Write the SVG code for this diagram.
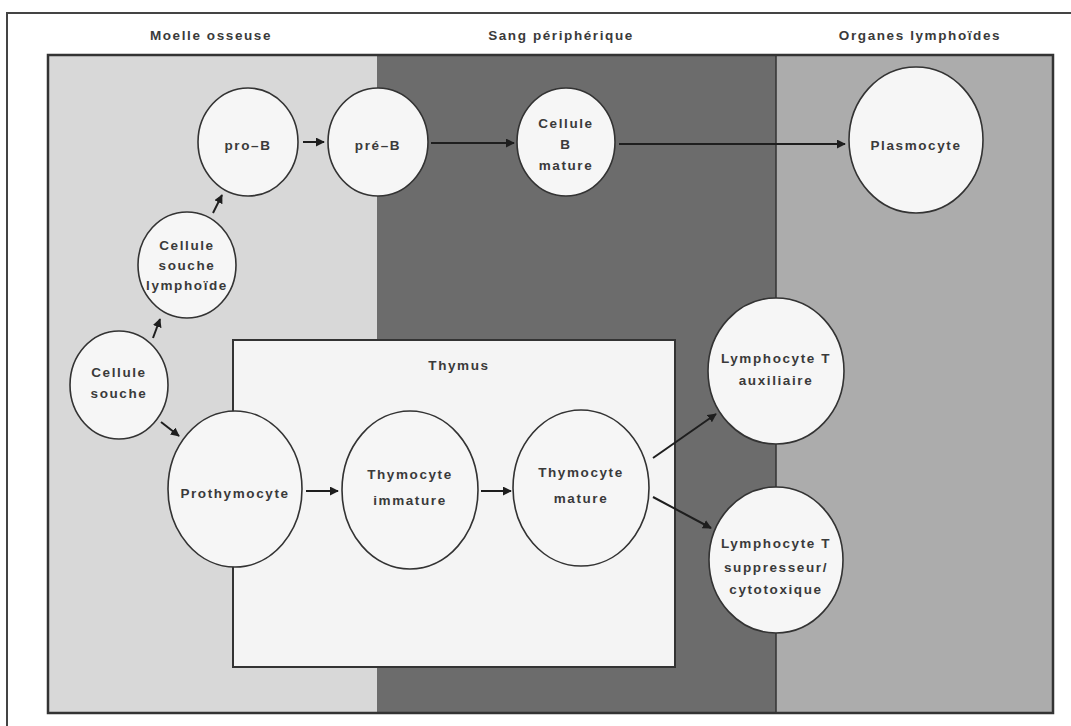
<svg xmlns="http://www.w3.org/2000/svg" width="1071" height="726" viewBox="0 0 1071 726">
<style>
  text { font-family: "Liberation Sans", Arial, sans-serif; font-size: 13.5px; font-weight: bold; letter-spacing: 1.6px; fill: #3a3a3a; text-anchor: middle; }
  .node ellipse { fill: #f6f6f6; stroke: #333; stroke-width: 1.6; }
  .conn line { stroke: #1e1e1e; stroke-width: 2; marker-end: url(#arr); }
</style>
<defs>
  <marker id="arr" viewBox="0 0 10 10" refX="9" refY="5" markerWidth="4.5" markerHeight="4.5" orient="auto" markerUnits="strokeWidth">
    <path d="M0,0 L10,5 L0,10 Z" fill="#1e1e1e"/>
  </marker>
</defs>
<rect width="1071" height="726" fill="#ffffff"/>
<rect x="7" y="13" width="1090" height="740" fill="none" stroke="#444" stroke-width="2"/>
<g id="headers">
  <text x="211" y="40">Moelle osseuse</text>
  <text x="561" y="40">Sang périphérique</text>
  <text x="920" y="40">Organes lymphoïdes</text>
</g>
<g id="zones">
  <rect x="48" y="55" width="329" height="658" fill="#d8d8d8"/>
  <rect x="377" y="55" width="399" height="658" fill="#6c6c6c"/>
  <rect x="776" y="55" width="277" height="658" fill="#acacac"/>
  <line x1="776" y1="55" x2="776" y2="713" stroke="#333" stroke-width="1.5"/>
  <rect x="48" y="55" width="1005" height="658" fill="none" stroke="#333" stroke-width="2.5"/>
</g>
<g id="thymus">
  <rect x="233" y="340" width="442" height="327" fill="#f4f4f4" stroke="#333" stroke-width="2"/>
  <text x="459" y="370">Thymus</text>
</g>
<g class="conn" id="connectors">
  <line x1="153" y1="338" x2="160" y2="319"/>
  <line x1="213" y1="213" x2="222" y2="195"/>
  <line x1="303" y1="142" x2="324" y2="142"/>
  <line x1="431" y1="143" x2="514" y2="143"/>
  <line x1="619" y1="144" x2="845" y2="144"/>
  <line x1="161" y1="422" x2="179" y2="436"/>
  <line x1="306" y1="491" x2="338" y2="491"/>
  <line x1="481" y1="491" x2="511" y2="491"/>
  <line x1="653" y1="458" x2="716" y2="414"/>
  <line x1="653" y1="497" x2="711" y2="528"/>
</g>
<g class="node" id="n-prob">
  <ellipse cx="248" cy="142" rx="50" ry="54"/>
  <text x="248" y="150">pro–B</text>
</g>
<g class="node" id="n-preb">
  <ellipse cx="378" cy="142" rx="50" ry="54"/>
  <text x="378" y="150">pré–B</text>
</g>
<g class="node" id="n-bmature">
  <ellipse cx="566" cy="142" rx="49" ry="54"/>
  <text x="566" y="128">Cellule</text>
  <text x="566" y="149">B</text>
  <text x="566" y="170">mature</text>
</g>
<g class="node" id="n-plasmocyte">
  <ellipse cx="916" cy="140" rx="67" ry="73"/>
  <text x="916" y="150">Plasmocyte</text>
</g>
<g class="node" id="n-lymphoide">
  <ellipse cx="187" cy="265" rx="49" ry="53"/>
  <text x="187" y="250">Cellule</text>
  <text x="187" y="270">souche</text>
  <text x="187" y="290">lymphoïde</text>
</g>
<g class="node" id="n-souche">
  <ellipse cx="119" cy="385" rx="49" ry="54"/>
  <text x="119" y="377">Cellule</text>
  <text x="119" y="398">souche</text>
</g>
<g class="node" id="n-prothymocyte">
  <ellipse cx="235" cy="489" rx="67" ry="78"/>
  <text x="235" y="498">Prothymocyte</text>
</g>
<g class="node" id="n-thimm">
  <ellipse cx="410" cy="490" rx="68" ry="79"/>
  <text x="410" y="479">Thymocyte</text>
  <text x="410" y="505">immature</text>
</g>
<g class="node" id="n-thmat">
  <ellipse cx="581" cy="488" rx="68" ry="78"/>
  <text x="581" y="477">Thymocyte</text>
  <text x="581" y="503">mature</text>
</g>
<g class="node" id="n-aux">
  <ellipse cx="776" cy="371" rx="68" ry="73"/>
  <text x="776" y="363">Lymphocyte T</text>
  <text x="776" y="385">auxiliaire</text>
</g>
<g class="node" id="n-supp">
  <ellipse cx="776" cy="560" rx="67" ry="73"/>
  <text x="776" y="548">Lymphocyte T</text>
  <text x="776" y="572">suppresseur/</text>
  <text x="776" y="594">cytotoxique</text>
</g>
</svg>
